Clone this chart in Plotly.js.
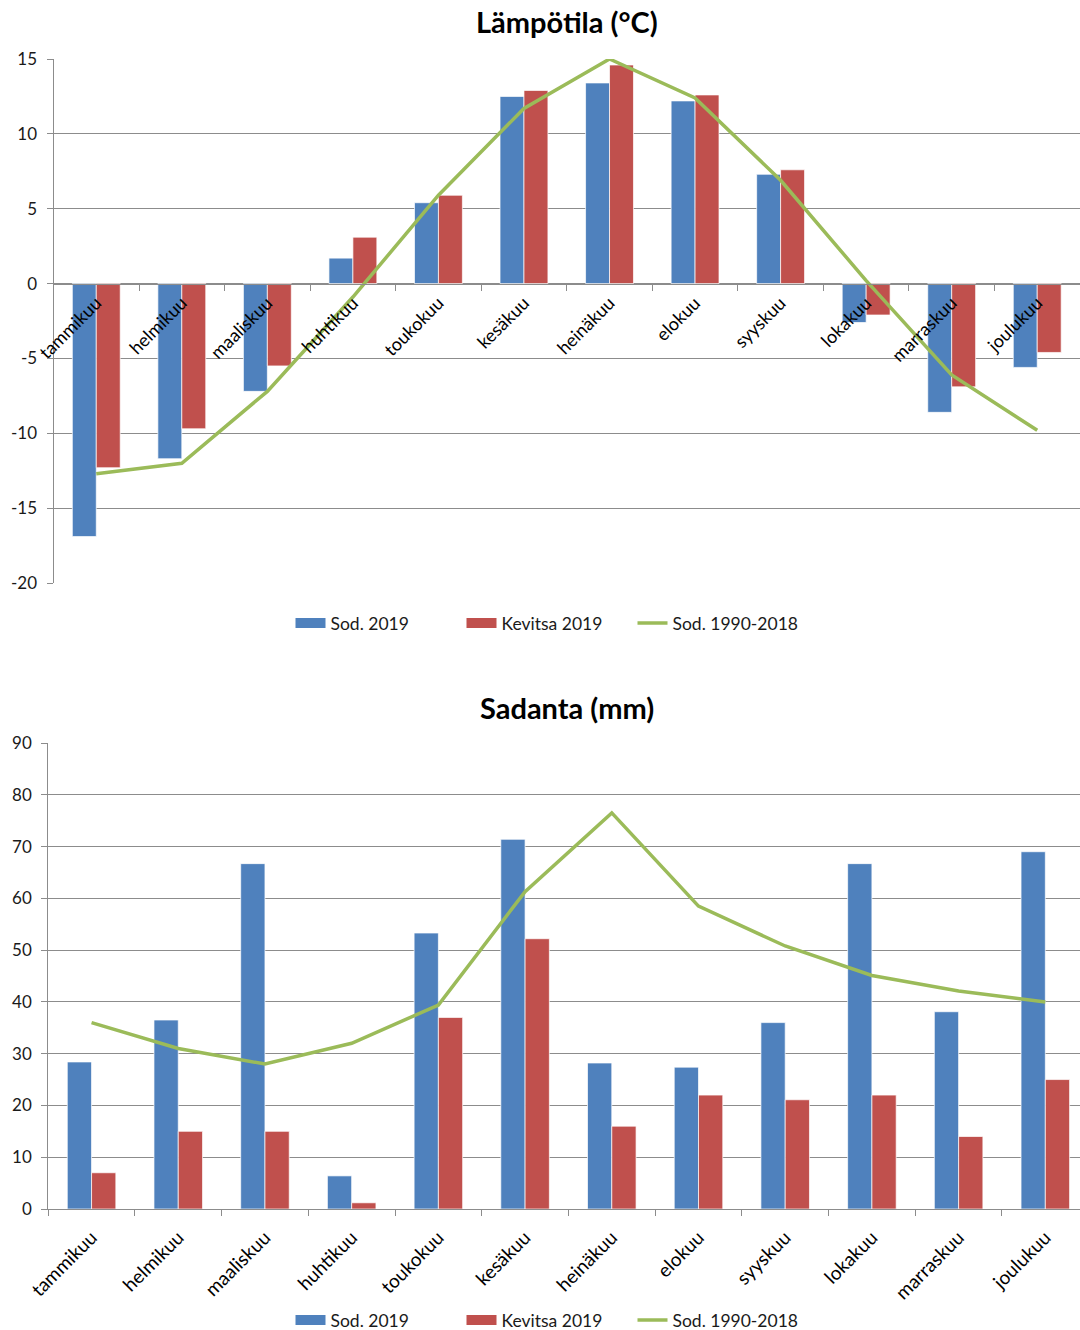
<!DOCTYPE html>
<html>
<head>
<meta charset="utf-8">
<script src="https://cdn.plot.ly/plotly-3.0.1.min.js"></script>
<style>html,body{margin:0;padding:0;overflow:hidden;background:#fff}</style>
</head>
<body>
<div id="chart" style="width:1080px;height:1330px"></div>
<script>
const months = ["tammikuu","helmikuu","maaliskuu","huhtikuu","toukokuu","kesäkuu","heinäkuu","elokuu","syyskuu","lokakuu","marraskuu","joulukuu"];
const seriesNames = ["Sod. 2019","Kevitsa 2019","Sod. 1990-2018"];

const tempSod2019 = [-16.9,-11.7,-7.2,1.7,5.4,12.5,13.4,12.2,7.3,-2.6,-8.6,-5.6];
const tempKevitsa2019 = [-12.3,-9.7,-5.5,3.1,5.9,12.9,14.6,12.6,7.6,-2.1,-6.9,-4.6];
const tempSod9018 = [-12.7,-12.0,-7.2,-0.9,5.9,11.7,15.0,12.4,6.9,0.2,-6.1,-9.8];

const rainSod2019 = [28.4,36.5,66.7,6.4,53.3,71.4,28.2,27.4,36.0,66.7,38.1,69.0];
const rainKevitsa2019 = [7.0,15.0,15.0,1.2,37.0,52.2,16.0,22.0,21.1,22.0,14.0,25.0];
const rainSod9018 = [36.0,31.0,28.0,32.0,39.4,61.3,76.5,58.5,50.8,45.1,42.1,40.0];

const tempTicks = [-20,-15,-10,-5,0,5,10,15];
const tempTickLabels = ["-20","-15","-10","-5","0","5","10","15"];
const rainTicks = [0,10,20,30,40,50,60,70,80,90];
const rainTickLabels = ["0","10","20","30","40","50","60","70","80","90"];

const titles = ["Lämpötila (°C)","Sadanta (mm)"];

const BLUE = "#4F81BD", RED = "#C0504D", GREEN = "#9BBB59";
const GRID = "#8c8c8c";
const FONT = "Lato, Open Sans, sans-serif";

function barTrace(x, y, color, xa, ya) {
  return {type:"bar", x:x, y:y, xaxis:xa, yaxis:ya, showlegend:false,
    marker:{color:color, line:{color:"rgba(255,255,255,0.7)", width:1}}};
}
function lineTrace(x, y, name, xa, ya, leg) {
  return {type:"scatter", mode:"lines", x:x, y:y, name:name, xaxis:xa, yaxis:ya, legend:leg,
    line:{color:GREEN, width:3.5}};
}
// legend keys drawn as wide swatches (no data of their own)
function keyTrace(name, color, xa, ya, leg) {
  return {type:"scatter", mode:"lines", x:[null], y:[null], name:name, xaxis:xa, yaxis:ya,
    legend:leg, line:{color:color, width:10}};
}

const data = [
  barTrace(months, tempSod2019, BLUE, "x", "y"),
  barTrace(months, tempKevitsa2019, RED, "x", "y"),
  keyTrace(seriesNames[0], BLUE, "x", "y", "legend"),
  keyTrace(seriesNames[1], RED, "x", "y", "legend"),
  lineTrace(months, tempSod9018, seriesNames[2], "x", "y", "legend"),
  barTrace(months, rainSod2019, BLUE, "x2", "y2"),
  barTrace(months, rainKevitsa2019, RED, "x2", "y2"),
  keyTrace(seriesNames[0], BLUE, "x2", "y2", "legend2"),
  keyTrace(seriesNames[1], RED, "x2", "y2", "legend2"),
  lineTrace(months, rainSod9018, seriesNames[2], "x2", "y2", "legend2")
];

const H = 1330, W = 1080;
const topY = [1-583/H, 1-59/H];
const botY = [1-1209/H, 1-743/H];
const zeroPos = topY[0] + (topY[1]-topY[0]) * (20/35);

const tickFont = {family:FONT, size:17, color:"#1a1a1a"};
const xTopFont = {family:FONT, size:18, color:"#000"};
const xBotFont = {family:FONT, size:19, color:"#000"};
const legendFont = {family:FONT, size:17.5, color:"#1a1a1a"};

const layout = {
  width:W, height:H,
  margin:{l:0, r:0, t:0, b:0, autoexpand:false},
  paper_bgcolor:"#fff", plot_bgcolor:"#fff",
  font:{family:FONT, color:"#1a1a1a"},
  barmode:"group", bargap:0.44, bargroupgap:0,
  xaxis:{domain:[53.5/W, 1], anchor:"free", position:zeroPos, range:[-0.5, 11.5],
    type:"category", showgrid:false, showline:true, linecolor:GRID, linewidth:1,
    ticks:"outside", tickson:"boundaries", ticklen:6, tickcolor:GRID, automargin:false,
    tickangle:-45, tickfont:xTopFont, ticklabelstandoff:1},
  yaxis:{domain:topY, anchor:"x", range:[-20, 15], tickvals:tempTicks, ticktext:tempTickLabels,
    showgrid:true, gridcolor:GRID, gridwidth:1, automargin:false,
    zeroline:false, showline:true, linecolor:GRID, ticks:"outside", ticklen:6, tickcolor:GRID,
    tickfont:tickFont, ticklabelstandoff:6},
  xaxis2:{domain:[48.2/W, 1], anchor:"y2", range:[-0.5, 11.4], type:"category",
    showgrid:false, showline:true, linecolor:GRID, ticks:"outside", tickson:"boundaries",
    ticklen:6, tickcolor:GRID, tickangle:-45, tickfont:xBotFont, automargin:false,
    ticklabelstandoff:9},
  yaxis2:{domain:botY, anchor:"x2", range:[0, 90], tickvals:rainTicks, ticktext:rainTickLabels,
    showgrid:true, gridcolor:GRID, automargin:false,
    zeroline:false, showline:true, linecolor:GRID, ticks:"outside", ticklen:6, tickcolor:GRID,
    tickfont:tickFont, ticklabelstandoff:6},
  legend:{orientation:"h", x:547/W, xanchor:"center", y:1-623/H, yanchor:"middle",
    entrywidth:126, entrywidthmode:"pixels",
    font:legendFont, traceorder:"normal", bgcolor:"rgba(0,0,0,0)", itemclick:false},
  legend2:{orientation:"h", x:547/W, xanchor:"center", y:1-1320/H, yanchor:"middle",
    entrywidth:126, entrywidthmode:"pixels",
    font:legendFont, traceorder:"normal", bgcolor:"rgba(0,0,0,0)", itemclick:false},
  annotations:[
    {text:"<b>"+titles[0]+"</b>", xref:"paper", yref:"paper", x:567/W, y:1-22/H,
      xanchor:"center", yanchor:"middle", showarrow:false, font:{family:FONT, size:29, color:"#000"}},
    {text:"<b>"+titles[1]+"</b>", xref:"paper", yref:"paper", x:567/W, y:1-707/H,
      xanchor:"center", yanchor:"middle", showarrow:false, font:{family:FONT, size:29, color:"#000"}}
  ],
  showlegend:true
};

Plotly.newPlot("chart", data, layout, {staticPlot:true, displayModeBar:false});
</script>
</body>
</html>
